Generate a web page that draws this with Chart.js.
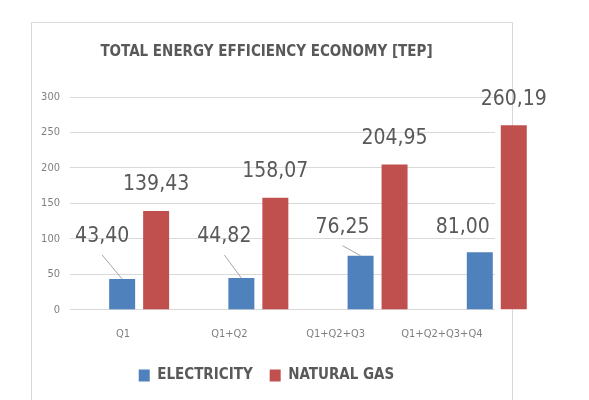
<!DOCTYPE html>
<html>
<head>
<meta charset="utf-8">
<script src="https://cdn.jsdelivr.net/npm/chart.js@4.4.1/dist/chart.umd.min.js"></script>
<style>
  html, body { margin: 0; padding: 0; background: #fff; overflow: hidden; }
  #wrap { width: 589px; height: 400px; }
</style>
</head>
<body>
<div id="wrap"><canvas id="energyChart" width="589" height="400"></canvas></div>
<script>
const categories = ['Q1', 'Q1+Q2', 'Q1+Q2+Q3', 'Q1+Q2+Q3+Q4'];
const electricity = [43.40, 44.82, 76.25, 81.00];
const naturalGas = [139.43, 158.07, 204.95, 260.19];
const yMax = 300;
const yStep = 50;

const FONT = "'Liberation Sans Narrow', 'DejaVu Sans Condensed', 'Open Sans', sans-serif";
const TEXT_DARK = '#595959';

// in the picture the bars sit on a wider spacing than the category labels,
// so the bars use a hidden index axis of their own
const barAxisMin = -0.58;
const barAxisMax = 2.985;

// label offsets from bar top (electricity labels sit to the left with leader lines)
const elecLabelOffsets = [[-20, -42], [-17, -41], [-18, -28], [-17, -25]];

const toPoints = (arr) => arr.map((v, i) => ({ x: i, y: v }));

const frame = {
  id: 'frame',
  beforeDraw(chart) {
    const c = chart.ctx;
    c.save();
    c.fillStyle = '#fff';
    c.fillRect(0, 0, chart.width, chart.height);
    c.strokeStyle = '#d9d9d9';
    c.lineWidth = 1;
    c.strokeRect(31.5, 22.5, 481, 400);
    c.restore();
  }
};

const valueLabels = {
  id: 'valueLabels',
  afterDatasetsDraw(chart) {
    const c = chart.ctx;
    c.save();
    c.font = '21px ' + FONT;
    c.fillStyle = TEXT_DARK;
    c.textAlign = 'center';
    c.textBaseline = 'middle';
    chart.data.datasets.forEach((ds, i) => {
      const meta = chart.getDatasetMeta(i);
      meta.data.forEach((bar, j) => {
        const off = ds.labelOffsets ? ds.labelOffsets[j] : [0, -26];
        const lx = bar.x + off[0];
        const ly = bar.y + off[1];
        const txt = ds.data[j].y.toFixed(2).replace('.', ',');
        c.fillText(txt, lx, ly);
        if (ds.labelOffsets && bar.y - (ly + 18) > 8) {
          c.strokeStyle = '#a6a6a6';
          c.lineWidth = 1;
          c.beginPath();
          c.moveTo(lx, ly + 18);
          c.lineTo(bar.x, bar.y);
          c.stroke();
        }
      });
    });
    c.restore();
  }
};

new Chart(document.getElementById('energyChart').getContext('2d'), {
  type: 'bar',
  data: {
    labels: categories,
    datasets: [{
      label: 'ELECTRICITY',
      data: toPoints(electricity),
      xAxisID: 'xb',
      backgroundColor: '#4f81bd',
      labelOffsets: elecLabelOffsets,
      categoryPercentage: 0.57,
      barPercentage: 0.765,
      clip: false
    }, {
      label: 'NATURAL GAS',
      data: toPoints(naturalGas),
      xAxisID: 'xb',
      backgroundColor: '#c0504d',
      categoryPercentage: 0.57,
      barPercentage: 0.765,
      clip: false
    }]
  },
  options: {
    responsive: false,
    animation: false,
    layout: { padding: { left: 38, right: 94, top: 22, bottom: 7 } },
    plugins: {
      title: {
        display: true,
        text: 'TOTAL ENERGY EFFICIENCY ECONOMY [TEP]',
        color: TEXT_DARK,
        font: { family: FONT, size: 15, weight: 'bold' },
        padding: { top: 21, bottom: 36 }
      },
      legend: {
        position: 'bottom',
        labels: {
          color: TEXT_DARK,
          font: { family: FONT, size: 15, weight: 'bold' },
          boxWidth: 11,
          boxHeight: 12,
          padding: 17
        }
      },
      tooltip: { enabled: false }
    },
    scales: {
      x: {
        type: 'category',
        offset: true,
        grid: { display: false },
        border: { display: false },
        ticks: { color: '#7f7f7f', font: { family: FONT, size: 11 }, padding: 10 }
      },
      xb: {
        type: 'linear',
        display: false,
        offset: false,
        grid: { offset: false },
        min: barAxisMin,
        max: barAxisMax,
        afterBuildTicks: (axis) => { axis.ticks = categories.map((_, i) => ({ value: i })); }
      },
      y: {
        min: 0,
        max: yMax,
        afterFit: (axis) => { axis.width = 32; },
        grid: { color: '#d9d9d9', drawTicks: false },
        border: { display: false },
        ticks: { stepSize: yStep, color: '#7f7f7f', font: { family: FONT, size: 11 }, padding: 10 }
      }
    }
  },
  plugins: [frame, valueLabels]
});
</script>
</body>
</html>
